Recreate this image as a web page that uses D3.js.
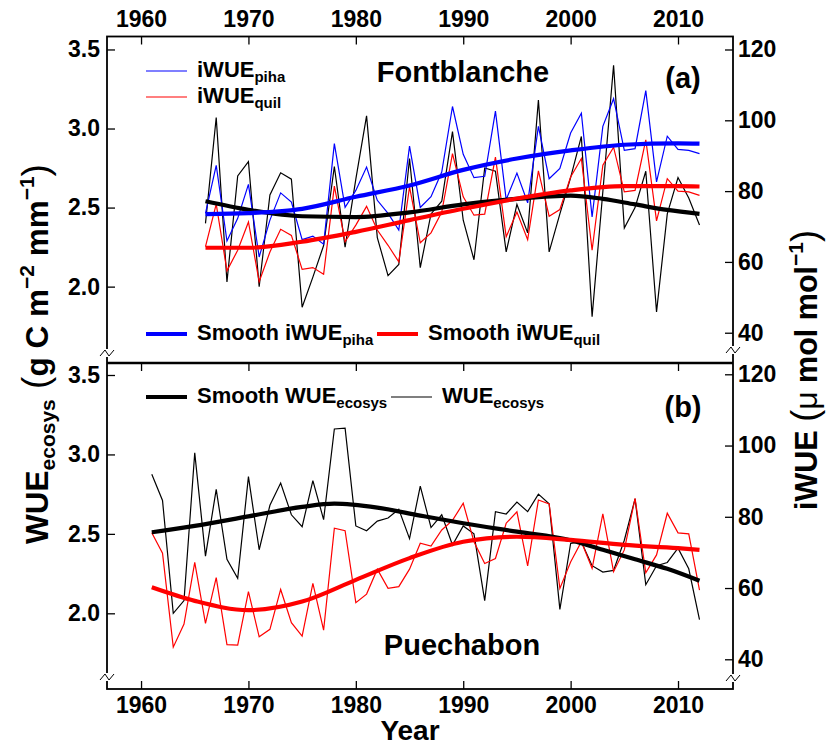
<!DOCTYPE html>
<html>
<head>
<meta charset="utf-8">
<script src="https://cdn.jsdelivr.net/npm/d3@7"></script>
<style>
  body { margin: 0; background: #fff; }
  svg { font-family: "Liberation Sans", Arial, sans-serif; font-weight: bold; }
</style>
</head>
<body>
<div id="chart"></div>
<script>
// ---- data ----
const yearsFont = d3.range(1966, 2013);
const yearsPue = d3.range(1961, 2013);

// (a) Fontblanche
const wueFont = [2.40, 3.07, 2.03, 2.70, 2.79, 2.00, 2.58, 2.72, 2.68, 1.87,
  2.06, 2.26, 2.76, 2.25, 2.68, 3.08, 2.31, 2.07, 2.14, 2.81,
  2.12, 2.46, 2.54, 2.98, 2.42, 2.17, 2.75, 2.73, 2.22, 2.52,
  2.34, 3.18, 2.22, 2.46, 2.69, 2.95, 1.81, 2.60, 3.40, 2.37,
  2.50, 2.73, 1.84, 2.46, 2.69, 2.56, 2.39];
const iwuePiha = [73.7, 87.3, 65.9, 72.3, 81.9, 61.4, 71.8, 79.5, 76.9, 66.3,
  67.3, 65.0, 93.4, 75.4, 80.2, 86.8, 77.4, 73.7, 69.0, 92.7,
  75.4, 78.4, 85.4, 103.9, 90.4, 83.8, 84.2, 102.6, 77.6, 85.1,
  76.7, 98.3, 83.5, 86.4, 96.4, 102.0, 72.7, 98.3, 106.1, 91.5,
  92.0, 108.4, 82.6, 95.5, 91.8, 91.5, 90.6];
const iwueQuilFont = [64.3, 76.3, 57.5, 63.3, 71.3, 54.4, 62.8, 69.2, 67.5, 57.9,
  58.4, 56.5, 81.4, 65.7, 70.4, 75.7, 69.0, 64.7, 60.0, 81.2,
  65.4, 68.2, 74.1, 90.6, 78.4, 73.2, 73.5, 89.6, 67.1, 74.1,
  66.3, 85.7, 72.9, 74.8, 84.0, 89.2, 63.3, 87.3, 92.4, 79.8,
  80.2, 94.5, 71.6, 83.5, 80.0, 79.8, 78.8];

const smYearsWueFont = [1966, 1970, 1975, 1980, 1985, 1990, 1995, 2000, 2003, 2006, 2009, 2012];
const smWueFont = [2.54, 2.486, 2.445, 2.44, 2.47, 2.52, 2.555, 2.575, 2.555, 2.52, 2.485, 2.46];
const smYearsIwueFont = [1966, 1970, 1975, 1980, 1985, 1990, 1995, 2000, 2005, 2010, 2012];
const smPiha = [73.5, 73.8, 75.0, 78.4, 81.6, 86.0, 89.2, 91.5, 93.1, 93.5, 93.4];
const smQuilFont = [64.0, 64.0, 65.7, 68.5, 71.8, 75.0, 77.9, 80.2, 81.4, 81.4, 81.3];

// (b) Puechabon
const wuePue = [2.875, 2.71, 2.00, 2.08, 3.01, 2.36, 2.78, 2.34, 2.22, 2.86,
  2.40, 2.68, 2.82, 2.62, 2.545, 2.835, 2.59, 3.16, 3.165, 2.55,
  2.52, 2.58, 2.60, 2.655, 2.47, 2.80, 2.54, 2.62, 2.43, 2.55,
  2.50, 2.08, 2.64, 2.625, 2.70, 2.64, 2.75, 2.69, 2.025, 2.44,
  2.45, 2.30, 2.26, 2.27, 2.46, 2.72, 2.18, 2.30, 2.32, 2.41,
  2.28, 1.96];
const iwueQuilPue = [75.5, 69.8, 43.4, 49.9, 67.2, 50.1, 62.9, 44.1, 44.0, 59.0,
  46.3, 48.4, 59.6, 50.3, 46.5, 61.3, 48.2, 76.8, 76.1, 55.9,
  58.3, 65.3, 59.9, 60.4, 65.3, 72.6, 71.8, 76.3, 79.0, 83.8,
  73.0, 66.9, 68.3, 78.2, 81.4, 66.2, 84.7, 83.6, 59.9, 67.3,
  73.0, 65.5, 80.8, 64.6, 70.7, 85.2, 64.3, 69.3, 81.0, 75.5,
  75.2, 59.4];

const smYearsWuePue = [1961, 1965, 1970, 1975, 1978, 1982, 1986, 1990, 1995, 2000, 2003, 2006, 2009, 2012];
const smWuePue = [2.51, 2.55, 2.61, 2.67, 2.69, 2.665, 2.615, 2.567, 2.514, 2.46, 2.40, 2.34, 2.28, 2.205];
const smYearsQuilPue = [1961, 1965, 1970, 1975, 1980, 1985, 1990, 1995, 2000, 2005, 2010, 2012];
const smQuilPue = [60.2, 56.4, 53.8, 56.2, 62.3, 68.4, 73.0, 74.4, 73.5, 72.1, 71.2, 70.7];

const yearTicks = [1960, 1970, 1980, 1990, 2000, 2010];
const wueTicks = [2.0, 2.5, 3.0, 3.5];
const iwueTicks = [40, 60, 80, 100, 120];

// ---- layout ----
const W = 828, H = 747;
const fLeft = 107, fRight = 733, fTop = 36.5, fMid = 363, fBottom = 689;

const svg = d3.select("#chart").append("svg")
  .attr("width", W).attr("height", H);

const x = d3.scaleLinear().domain([1956.83, 2015.12]).range([fLeft, fRight]);

const panels = [
  { yL: d3.scaleLinear().domain([1.517, 3.582]).range([fMid, fTop]),
    yR: d3.scaleLinear().domain([31.45, 123.67]).range([fMid, fTop]) },
  { yL: d3.scaleLinear().domain([1.5236, 3.5755]).range([fBottom, fMid]),
    yR: d3.scaleLinear().domain([31.66, 123.17]).range([fBottom, fMid]) }
];

const tickFont = "23px";

function styleAxis(g) {
  g.select(".domain").remove();
  g.selectAll("line").attr("stroke", "#000").attr("stroke-width", 1.3);
  g.selectAll("text").attr("font-size", tickFont).attr("font-weight", "bold")
    .attr("font-family", "Liberation Sans, Arial, sans-serif").attr("fill", "#000");
}

panels.forEach(p => {
  svg.append("g").attr("transform", `translate(${fLeft},0)`)
    .call(d3.axisLeft(p.yL).tickValues(wueTicks).tickSize(-8).tickPadding(7).tickFormat(d3.format(".1f")))
    .call(styleAxis);
  svg.append("g").attr("transform", `translate(${fRight},0)`)
    .call(d3.axisRight(p.yR).tickValues(iwueTicks).tickSize(-8).tickPadding(5))
    .call(styleAxis);
});

svg.append("g").attr("transform", `translate(0,${fTop})`)
  .call(d3.axisTop(x).tickValues(yearTicks).tickSize(-8).tickPadding(10).tickFormat(d3.format("d")))
  .call(styleAxis);
svg.append("g").attr("transform", `translate(0,${fMid})`)
  .call(d3.axisTop(x).tickValues(yearTicks).tickSize(-8).tickFormat(""))
  .call(styleAxis);
svg.append("g").attr("transform", `translate(0,${fBottom})`)
  .call(d3.axisBottom(x).tickValues(yearTicks).tickSize(-8).tickPadding(8).tickFormat(d3.format("d")))
  .call(styleAxis);

// ---- series ----
function drawLine(years, vals, y, color, width) {
  const pts = years.map((yr, i) => [yr, vals[i]]);
  svg.append("path").datum(pts)
    .attr("fill", "none").attr("stroke", color).attr("stroke-width", width)
    .attr("d", d3.line().x(d => x(d[0])).y(d => y(d[1])));
}
function drawSmooth(years, vals, y, color) {
  const pts = years.map((yr, i) => [yr, vals[i]]);
  svg.append("path").datum(pts)
    .attr("fill", "none").attr("stroke", color).attr("stroke-width", 4.2)
    .attr("d", d3.line().curve(d3.curveMonotoneX).x(d => x(d[0])).y(d => y(d[1])));
}

const A = panels[0], B = panels[1];
drawLine(yearsFont, wueFont, A.yL, "#000", 1.2);
drawLine(yearsFont, iwuePiha, A.yR, "#0000ff", 1.2);
drawLine(yearsFont, iwueQuilFont, A.yR, "#ff0000", 1.2);
drawSmooth(smYearsWueFont, smWueFont, A.yL, "#000");
drawSmooth(smYearsIwueFont, smPiha, A.yR, "#0000ff");
drawSmooth(smYearsIwueFont, smQuilFont, A.yR, "#ff0000");

drawLine(yearsPue, wuePue, B.yL, "#000", 1.2);
drawLine(yearsPue, iwueQuilPue, B.yR, "#ff0000", 1.2);
drawSmooth(smYearsWuePue, smWuePue, B.yL, "#000");
drawSmooth(smYearsQuilPue, smQuilPue, B.yR, "#ff0000");

// ---- frame ----
svg.append("rect").attr("x", fLeft).attr("y", fTop)
  .attr("width", fRight - fLeft).attr("height", fBottom - fTop)
  .attr("fill", "none").attr("stroke", "#000").attr("stroke-width", 1.8);
svg.append("line").attr("x1", fLeft).attr("x2", fRight).attr("y1", fMid).attr("y2", fMid)
  .attr("stroke", "#000").attr("stroke-width", 2.6);

// axis breaks
function axisBreak(cx, cy) {
  svg.append("rect").attr("x", cx - 3).attr("y", cy - 4).attr("width", 6).attr("height", 8).attr("fill", "#fff");
  svg.append("path")
    .attr("d", `M${cx - 7},${cy + 3}L${cx - 2},${cy - 3}L${cx + 2},${cy + 3}L${cx + 7},${cy - 3}`)
    .attr("fill", "none").attr("stroke", "#000").attr("stroke-width", 1);
}
axisBreak(fLeft, 353);
axisBreak(fLeft, 677);
axisBreak(fRight, 350);
axisBreak(fRight, 678);

// ---- text helpers ----
function richText(g, parts, size) {
  const t = g.append("text").attr("font-size", size + "px").attr("fill", "#000");
  parts.forEach(p => {
    const s = t.append("tspan").text(p.t);
    if (p.sub) s.attr("font-size", Math.round(size * 0.68) + "px").attr("dy", size * 0.22);
    else if (p.sup) s.attr("font-size", Math.round(size * 0.68) + "px").attr("dy", -size * 0.45);
    if (p.back) s.attr("dy", p.back);
    if (p.big) s.attr("font-size", p.big + "px").attr("font-weight", "normal");
  });
  return t;
}

// legends
function legendItem(lx, ly, color, width, parts) {
  svg.append("line").attr("x1", lx).attr("x2", lx + 41).attr("y1", ly).attr("y2", ly)
    .attr("stroke", color).attr("stroke-width", width);
  const g = svg.append("g").attr("transform", `translate(${lx + 51},${ly + 6})`);
  richText(g, parts, 22);
}
legendItem(146, 71, "#0000ff", 1.2, [{ t: "iWUE" }, { t: "piha", sub: true }]);
legendItem(146, 97, "#ff0000", 1.2, [{ t: "iWUE" }, { t: "quil", sub: true }]);
legendItem(146, 334, "#0000ff", 4.2, [{ t: "Smooth iWUE" }, { t: "piha", sub: true }]);
legendItem(377, 334, "#ff0000", 4.2, [{ t: "Smooth iWUE" }, { t: "quil", sub: true }]);
legendItem(146, 397, "#000", 4.2, [{ t: "Smooth WUE" }, { t: "ecosys", sub: true }]);
legendItem(391, 397, "#000", 1.2, [{ t: "WUE" }, { t: "ecosys", sub: true }]);

// panel titles
svg.append("text").attr("x", 463).attr("y", 82).attr("text-anchor", "middle")
  .attr("font-size", "29px").text("Fontblanche");
svg.append("text").attr("x", 683).attr("y", 88).attr("text-anchor", "middle")
  .attr("font-size", "29px").text("(a)");
svg.append("text").attr("x", 683).attr("y", 417).attr("text-anchor", "middle")
  .attr("font-size", "29px").text("(b)");
svg.append("text").attr("x", 462).attr("y", 655).attr("text-anchor", "middle")
  .attr("font-size", "29px").text("Puechabon");

// axis titles
svg.append("text").attr("x", 410).attr("y", 740).attr("text-anchor", "middle")
  .attr("font-size", "28px").text("Year");

const lt = svg.append("g").attr("transform", "translate(48,354) rotate(-90)");
richText(lt, [{ t: "WUE" }, { t: "ecosys", sub: true }, { t: " (", big: 37, back: -6.9 },
  { t: "g C m" }, { t: "−2", sup: true }, { t: " mm", back: 14 },
  { t: "−1", sup: true }, { t: ")", big: 37, back: 14 }], 31.5)
  .attr("text-anchor", "middle");

const rt = svg.append("g").attr("transform", "translate(817,370) rotate(-90)");
richText(rt, [{ t: "iWUE " }, { t: "(", big: 36 }, { t: "μ", big: 32 }, { t: " mol mol" },
  { t: "−1", sup: true }, { t: ")", big: 36, back: 13.7 }], 30.5)
  .attr("text-anchor", "middle");
</script>
</body>
</html>
